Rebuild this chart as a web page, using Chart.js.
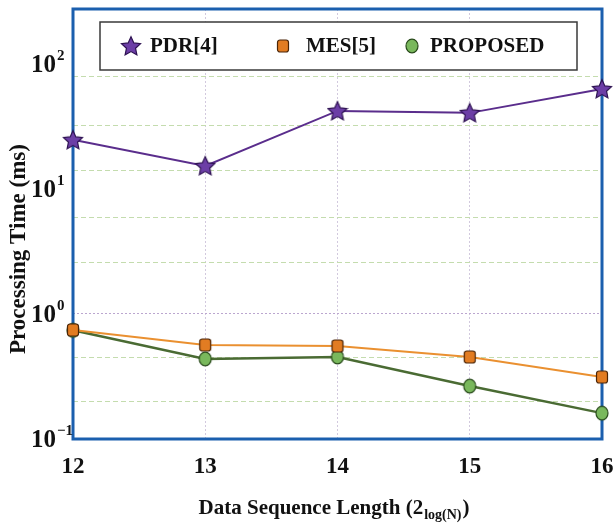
<!DOCTYPE html>
<html>
<head>
<meta charset="utf-8">
<script src="https://cdn.jsdelivr.net/npm/chart.js@4"></script>
<style>
  body { margin: 0; background: #fff; }
</style>
</head>
<body>
<canvas id="chart" width="616" height="525"></canvas>
<script>
// data (log scale)
const seqLengths = ['12', '13', '14', '15', '16'];
const pdrTimes = [24.7, 15.3, 42.1, 40.6, 63.1];
const mesTimes = [0.745, 0.565, 0.555, 0.453, 0.313];
const proposedTimes = [0.74, 0.437, 0.453, 0.265, 0.161];

// y axis: labelled decades and the extra dashed grid rows
const decadeTicks = [0.1, 1, 10, 100];
const decadeExps = ['\u22121', '0', '1', '2'];
const gridValues = [0.2, 0.45, 1, 2.6, 5.9, 14, 32, 80];

const SERIF = '"Liberation Serif", "DejaVu Serif", serif';
const BLUE = '#1b5fae';

// marker images
function makeMarker(kind) {
  const c = document.createElement('canvas');
  c.width = 22; c.height = 22;
  const g = c.getContext('2d');
  g.lineWidth = 1.2;
  if (kind === 'star') {
    g.beginPath();
    for (let i = 0; i < 10; i++) {
      const r = i % 2 === 0 ? 10 : 4.8;
      const a = -Math.PI / 2 + i * Math.PI / 5;
      const px = 11 + r * Math.cos(a), py = 11.8 + r * Math.sin(a);
      if (i === 0) g.moveTo(px, py); else g.lineTo(px, py);
    }
    g.closePath();
    g.fillStyle = '#6c3ea6';
    g.strokeStyle = '#2e1252';
    g.fill(); g.stroke();
  } else if (kind === 'square') {
    g.beginPath();
    g.roundRect(5.5, 5, 11, 12, 2.5);
    g.fillStyle = '#e27c22';
    g.strokeStyle = '#4a2508';
    g.fill(); g.stroke();
  } else {
    g.beginPath();
    g.ellipse(11, 11, 6, 6.8, 0, 0, Math.PI * 2);
    g.fillStyle = '#79b85c';
    g.strokeStyle = '#284a1a';
    g.fill(); g.stroke();
  }
  return c;
}
const starImg = makeMarker('star');
const squareImg = makeMarker('square');
const circleImg = makeMarker('circle');

const frameAndText = {
  id: 'frameAndText',
  beforeDatasetsDraw(chart) {
    const ctx = chart.ctx, a = chart.chartArea;
    ctx.save();
    ctx.strokeStyle = BLUE;
    ctx.lineWidth = 3;
    ctx.strokeRect(a.left, a.top, a.right - a.left, a.bottom - a.top);
    ctx.restore();
  },
  afterDraw(chart) {
    const ctx = chart.ctx;
    const ys = chart.scales.y;
    ctx.save();
    ctx.fillStyle = '#111';

    // y tick labels 10^n
    decadeTicks.forEach((v, i) => {
      const y = ys.getPixelForValue(v);
      ctx.font = 'bold 25px ' + SERIF;
      ctx.textAlign = 'right';
      ctx.textBaseline = 'middle';
      ctx.fillText('10', 56, y + 2);
      ctx.font = 'bold 15px ' + SERIF;
      ctx.textAlign = 'left';
      ctx.fillText(decadeExps[i], 57, y - 8);
    });

    // y title
    ctx.save();
    ctx.translate(19, 249);
    ctx.rotate(-Math.PI / 2);
    ctx.font = 'bold 23px ' + SERIF;
    ctx.textAlign = 'center';
    ctx.textBaseline = 'middle';
    ctx.fillText('Processing Time (ms)', 0, 0);
    ctx.restore();

    // x title with subscript
    const main = 'Data Sequence Length (2', sub = 'log(N)', close = ')';
    ctx.textBaseline = 'alphabetic';
    ctx.textAlign = 'left';
    ctx.font = 'bold 21px ' + SERIF;
    const w1 = ctx.measureText(main).width, w3 = ctx.measureText(close).width;
    ctx.font = 'bold 14px ' + SERIF;
    const w2 = ctx.measureText(sub).width;
    const x = 333 - (w1 + w2 + w3) / 2;
    const base = 514;
    ctx.font = 'bold 21px ' + SERIF;
    ctx.fillText(main, x, base);
    ctx.font = 'bold 14px ' + SERIF;
    ctx.fillText(sub, x + w1 + 1, base + 5);
    ctx.font = 'bold 21px ' + SERIF;
    ctx.fillText(close, x + w1 + w2 + 2, base);

    // legend box inside the plot
    const lx = 100, ly = 22, lw = 477, lh = 48;
    ctx.fillStyle = '#fff';
    ctx.fillRect(lx, ly, lw, lh);
    ctx.strokeStyle = '#3a3a3a';
    ctx.lineWidth = 1.5;
    ctx.strokeRect(lx, ly, lw, lh);
    const slots = [[131, 150], [283, 306], [412, 430]];
    ctx.font = 'bold 21px ' + SERIF;
    ctx.fillStyle = '#111';
    ctx.textBaseline = 'middle';
    chart.data.datasets.forEach((d, i) => {
      ctx.drawImage(d.pointStyle, slots[i][0] - 11, 46 - 11);
      ctx.fillText(d.label, slots[i][1], 47);
    });
    ctx.restore();
  }
};

new Chart(document.getElementById('chart'), {
  type: 'line',
  data: {
    labels: seqLengths,
    datasets: [
      {
        label: 'PDR[4]', data: pdrTimes,
        borderColor: '#5a2d8c', borderWidth: 2,
        pointStyle: starImg, clip: false
      },
      {
        label: 'MES[5]', data: mesTimes,
        borderColor: '#ea9030', borderWidth: 2,
        pointStyle: squareImg, clip: false
      },
      {
        label: 'PROPOSED', data: proposedTimes,
        borderColor: '#4a6b33', borderWidth: 2.5,
        pointStyle: circleImg, clip: false
      }
    ]
  },
  options: {
    responsive: false,
    animation: false,
    devicePixelRatio: 1,
    layout: { padding: { top: 9, right: 14, left: 0, bottom: 0 } },
    plugins: { legend: { display: false }, tooltip: { enabled: false } },
    scales: {
      x: {
        type: 'category',
        offset: false,
        afterFit(s) { s.height = 86; s.paddingLeft = 0; s.paddingRight = 0; },
        grid: {
          drawTicks: false,
          color: c => (c.index === 0 || c.index === seqLengths.length - 1) ? 'rgba(0,0,0,0)' : '#d2c9de',
          lineWidth: 1
        },
        border: { display: false, dash: [2, 2] },
        ticks: {
          padding: 14,
          color: '#111',
          font: { family: SERIF, size: 23, weight: 'bold' }
        }
      },
      y: {
        type: 'logarithmic',
        min: 0.1,
        max: 275,
        afterFit(s) { s.width = 73; s.paddingTop = 0; s.paddingBottom = 0; },
        afterBuildTicks(s) {
          s.ticks = gridValues.map(v => ({ value: v }));
        },
        grid: {
          drawTicks: false,
          color: c => c.tick && c.tick.value === 1 ? '#bba6cf' : '#c4dcae',
          lineWidth: 1
        },
        border: {
          display: false,
          dash: c => c.tick && c.tick.value === 1 ? [2, 2] : [5, 3]
        },
        ticks: { display: false }
      }
    }
  },
  plugins: [frameAndText]
});
</script>
</body>
</html>
